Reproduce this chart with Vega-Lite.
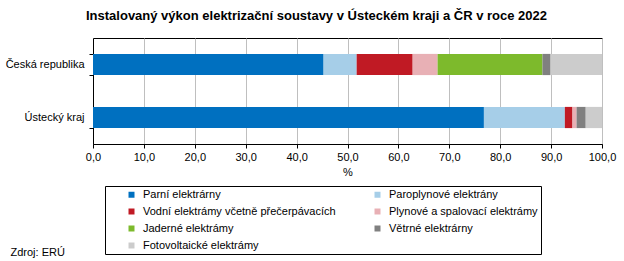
{
  "$schema": "https://vega.github.io/schema/vega-lite/v6.json",
  "width": 509,
  "height": 106,
  "autosize": {"type": "none"},
  "padding": {"left": 93, "top": 38, "right": 22, "bottom": 117},
  "title": {
    "text": "Instalovaný výkon elektrizační soustavy  v Ústeckém  kraji a ČR v roce 2022",
    "anchor": "middle",
    "frame": "group",
    "dx": -31,
    "offset": 9,
    "fontSize": 13,
    "fontWeight": "bold",
    "font": "Liberation Sans",
    "color": "#000000"
  },
  "data": {
    "values": [
      {"region": "Česká republika", "type": "Parní elektrárny", "o": 1, "value": 45.3},
      {"region": "Česká republika", "type": "Paroplynové elektrány", "o": 2, "value": 6.5},
      {"region": "Česká republika", "type": "Vodní elektrámy včetně přečerpávacích", "o": 3, "value": 11.0},
      {"region": "Česká republika", "type": "Plynové a spalovací elektrámy", "o": 4, "value": 4.9},
      {"region": "Česká republika", "type": "Jaderné elektrámy", "o": 5, "value": 20.6},
      {"region": "Česká republika", "type": "Větrné elektrárny", "o": 6, "value": 1.6},
      {"region": "Česká republika", "type": "Fotovoltaické elektrámy", "o": 7, "value": 10.1},
      {"region": "Ústecký kraj", "type": "Parní elektrárny", "o": 1, "value": 76.8},
      {"region": "Ústecký kraj", "type": "Paroplynové elektrány", "o": 2, "value": 15.9},
      {"region": "Ústecký kraj", "type": "Vodní elektrámy včetně přečerpávacích", "o": 3, "value": 1.5},
      {"region": "Ústecký kraj", "type": "Plynové a spalovací elektrámy", "o": 4, "value": 0.8},
      {"region": "Ústecký kraj", "type": "Jaderné elektrámy", "o": 5, "value": 0},
      {"region": "Ústecký kraj", "type": "Větrné elektrárny", "o": 6, "value": 1.8},
      {"region": "Ústecký kraj", "type": "Fotovoltaické elektrámy", "o": 7, "value": 3.2}
    ]
  },
  "mark": {"type": "bar"},
  "encoding": {
    "y": {
      "field": "region",
      "type": "nominal",
      "sort": ["Česká republika", "Ústecký kraj"],
      "scale": {"paddingInner": 0.6, "paddingOuter": 0.3},
      "axis": {
        "title": "Zdroj: ERÚ",
        "titleAngle": 0,
        "titleAlign": "left",
        "titleBaseline": "middle",
        "titleX": -83,
        "titleY": 214,
        "titleFontWeight": "normal",
        "titleFontSize": 11,
        "titleColor": "#000000",
        "tickBand": "extent",
        "labelFontSize": 11,
        "labelPadding": 5,
        "labelColor": "#000000",
        "tickSize": 4,
        "grid": false,
        "domainColor": "#000000",
        "tickColor": "#000000"
      }
    },
    "x": {
      "field": "value",
      "type": "quantitative",
      "stack": "zero",
      "scale": {"domain": [0, 100], "nice": false},
      "axis": {
        "title": "%",
        "values": [0, 10, 20, 30, 40, 50, 60, 70, 80, 90, 100],
        "labelExpr": "replace(format(datum.value, '.1f'), '.', ',')",
        "labelFlush": false,
        "labelFontSize": 11,
        "labelColor": "#000000",
        "labelPadding": 3,
        "tickSize": 4,
        "tickColor": "#000000",
        "domainColor": "#000000",
        "gridColor": "#BFBFBF",
        "titleFontSize": 11,
        "titleFontWeight": "normal",
        "titleColor": "#000000",
        "titlePadding": 4
      }
    },
    "color": {
      "field": "type",
      "type": "nominal",
      "scale": {
        "domain": ["Parní elektrárny", "Paroplynové elektrány", "Vodní elektrámy včetně přečerpávacích", "Plynové a spalovací elektrámy", "Jaderné elektrámy", "Větrné elektrárny", "Fotovoltaické elektrámy"],
        "range": ["#0070C0", "#A6CEE8", "#C01A24", "#E8B0B5", "#7DBA2C", "#808080", "#CCCCCC"]
      },
      "legend": {
        "orient": "none",
        "direction": "horizontal",
        "legendX": 12,
        "legendY": 148,
        "columns": 2,
        "title": " ",
        "titleOrient": "left",
        "titlePadding": 18,
        "titleFontSize": 11,
        "padding": 3,
        "strokeColor": "#000000",
        "symbolType": "square",
        "symbolSize": 36,
        "symbolStrokeWidth": 0,
        "labelFontSize": 11,
        "labelColor": "#000000",
        "labelOffset": 6,
        "labelLimit": 400,
        "labelExpr": "datum.label + '\u00a0\u00a0\u00a0\u00a0'",
        "rowPadding": 5,
        "columnPadding": 36
      }
    },
    "order": {"field": "o", "type": "quantitative"}
  },
  "config": {
    "font": "Liberation Sans",
    "view": {"stroke": "#000000", "strokeWidth": 1},
    "legend": {"symbolOpacity": 1}
  }
}
